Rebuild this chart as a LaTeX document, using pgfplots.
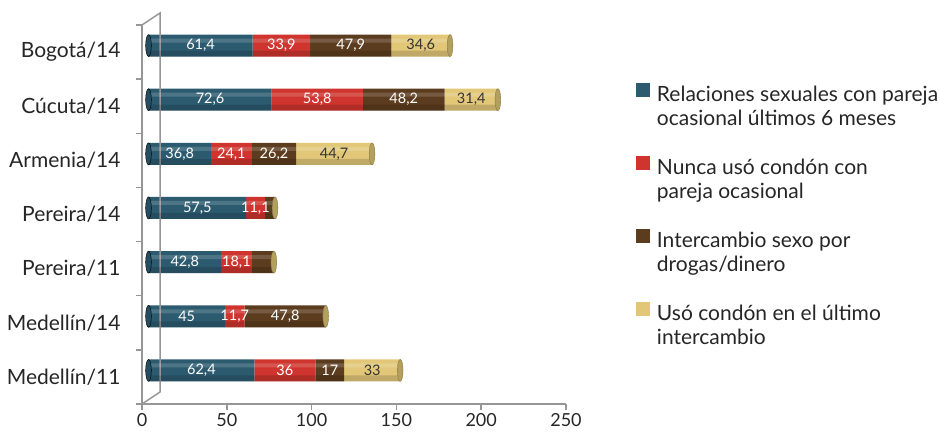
\documentclass[border=0pt]{standalone}
\usepackage{pgfplots}
\pgfplotsset{compat=1.18}
\usepackage{pgfplotstable}
\usepackage{fontspec}
\setmainfont{Lato}
\definecolor{cblue}{RGB}{44,91,112}
\definecolor{cred}{RGB}{207,53,46}
\definecolor{cbrown}{RGB}{92,60,30}
\definecolor{cgold}{RGB}{226,199,120}
\definecolor{ccap}{RGB}{178,160,92}
\definecolor{wallgray}{RGB}{150,150,150}
\pgfplotstableread{
y blue red brown gold lb lr lbr lg
0 62.4 36   17   33   62,4 36   17   33
1 45   11.7 47.8 0    45   11,7 47,8 {}
2 42.8 18.1 13   0    42,8 18,1 {}   {}
3 57.5 11.1 6    0    57,5 11,1 {}   {}
4 36.8 24.1 26.2 44.7 36,8 24,1 26,2 44,7
5 72.6 53.8 48.2 31.4 72,6 53,8 48,2 31,4
6 61.4 33.9 47.9 34.6 61,4 33,9 47,9 34,6
}\datatable
\pgfplotsset{
  common/.style={
    at={(142pt,29pt)}, anchor=south west,
    scale only axis, width=424pt, height=379pt,
    xmin=0, xmax=250, ymin=-0.5, ymax=6.5, clip=false},
  lbl/.style={draw=none, mark=none, xshift=6.5pt, yshift=6.5pt,
    point meta=explicit symbolic, nodes near coords,
    every node near coord/.append style={anchor=center, inner sep=0pt,
      font=\fontsize{14.5}{16}\selectfont, text=#1}},
}
\begin{document}
\begin{tikzpicture}
\path (0,0) rectangle (940pt,433pt);
\begin{axis}[common,
  xbar stacked, bar width=22pt,
  axis x line=bottom, axis y line=left,
  axis line style={wallgray, line width=1.5pt, -},
  xtick={0,50,...,250}, tick align=outside,
  major tick length=6pt, minor tick length=6pt,
  x tick style={wallgray, line width=1.5pt},
  ytick={0,...,6},
  yticklabels={Medellín/11,Medellín/14,Pereira/11,Pereira/14,Armenia/14,Cúcuta/14,Bogotá/14},
  major y tick style={draw=none},
  minor ytick={-0.5,0.5,...,6.5},
  minor y tick style={wallgray, line width=1.5pt},
  /pgf/number format/assume math mode=true,
  xticklabel style={font=\fontsize{18}{20}\selectfont, text=black!85},
  yticklabel style={font=\fontsize{21}{24}\selectfont, text=black!85, anchor=east, xshift=-12pt},
  legend cell align=left,
  legend image code/.code={\fill[#1] (0pt,-2pt) rectangle (14pt,12pt); \path (0pt,-61pt);},
  legend style={at={(1.165,0.846)}, anchor=north west, draw=none, fill=none,
    inner sep=0pt, outer sep=0pt, column sep=7pt,
    nodes={inner sep=0pt, anchor=base west},
    font=\fontsize{21}{24}\selectfont, text=black!85},
]
\draw[wallgray, line width=1.5pt] (rel axis cs:0,1) -- ([shift={(18pt,12pt)}]rel axis cs:0,1) -- ([shift={(18pt,12pt)}]rel axis cs:0,0) -- (rel axis cs:0,0);
\addplot[draw=none, fill=cblue, xshift=6.5pt, yshift=6.5pt]
  table[x=blue, y=y] {\datatable};
\addlegendentry{\begin{tabular}[t]{@{}l@{}}Relaciones sexuales con pareja\\ocasional últimos 6 meses\end{tabular}}
\addplot[draw=none, fill=cred, xshift=6.5pt, yshift=6.5pt]
  table[x=red, y=y] {\datatable};
\addlegendentry{\begin{tabular}[t]{@{}l@{}}Nunca usó condón con\\pareja ocasional\end{tabular}}
\addplot[draw=none, fill=cbrown, xshift=6.5pt, yshift=6.5pt]
  table[x=brown, y=y] {\datatable};
\addlegendentry{\begin{tabular}[t]{@{}l@{}}Intercambio sexo por\\drogas/dinero\end{tabular}}
\addplot[draw=none, fill=cgold, xshift=6.5pt, yshift=6.5pt]
  table[x=gold, y=y] {\datatable};
\addlegendentry{\begin{tabular}[t]{@{}l@{}}Usó condón en el último\\intercambio\end{tabular}}
\end{axis}
\begin{axis}[common, hide axis]
% cylinder look: highlight and shade stripes, rounded ends
\addplot[xbar, bar width=4pt, bar shift=5pt, draw=none, fill=white, fill opacity=0.16, xshift=6.5pt, yshift=6.5pt]
  table[x expr=\thisrow{blue}+\thisrow{red}+\thisrow{brown}+\thisrow{gold}, y=y] {\datatable};
\addplot[xbar, bar width=6pt, bar shift=-8pt, draw=none, fill=black, fill opacity=0.15, xshift=6.5pt, yshift=6.5pt]
  table[x expr=\thisrow{blue}+\thisrow{red}+\thisrow{brown}+\thisrow{gold}, y=y] {\datatable};
\addplot[only marks, mark=*, mark size=11pt, mark options={xscale=0.26, fill=cblue!85!black, draw=none}, xshift=6.5pt, yshift=6.5pt]
  table[x expr=0, y=y] {\datatable};
\addplot[only marks, mark=*, mark size=11pt, mark options={xscale=0.26, fill=ccap, draw=cgold!60!black, line width=0.4pt}, xshift=6.5pt, yshift=6.5pt]
  table[x expr=\thisrow{blue}+\thisrow{red}+\thisrow{brown}+\thisrow{gold}, y=y] {\datatable};
% value labels centred in each segment
\addplot[lbl=white] table[x expr=\thisrow{blue}/2, y=y, meta=lb] {\datatable};
\addplot[lbl=white] table[x expr=\thisrow{blue}+\thisrow{red}/2, y=y, meta=lr] {\datatable};
\addplot[lbl=white] table[x expr=\thisrow{blue}+\thisrow{red}+\thisrow{brown}/2, y=y, meta=lbr] {\datatable};
\addplot[lbl=black!80] table[x expr=\thisrow{blue}+\thisrow{red}+\thisrow{brown}+\thisrow{gold}/2, y=y, meta=lg] {\datatable};
\end{axis}
\end{tikzpicture}
\end{document}
